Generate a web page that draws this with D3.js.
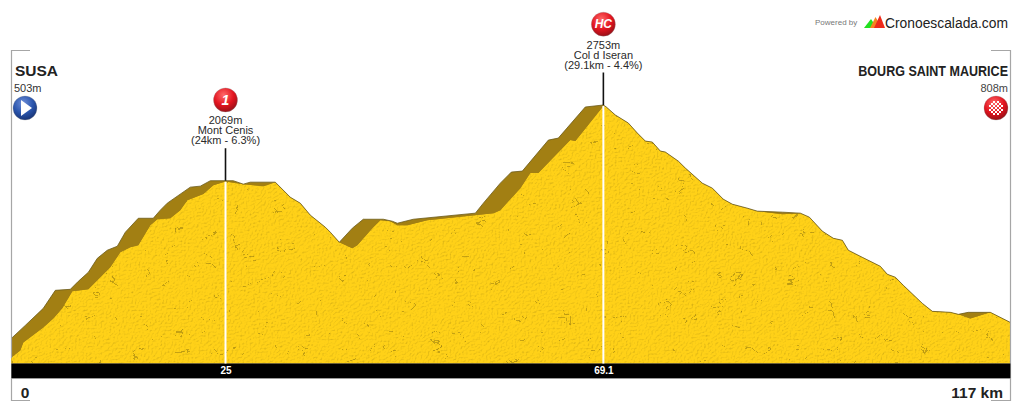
<!DOCTYPE html>
<html><head><meta charset="utf-8">
<script src="https://cdn.jsdelivr.net/npm/d3@7/dist/d3.min.js"></script>
<style>html,body{margin:0;padding:0;background:#fff}svg{display:block}text{font-family:"Liberation Sans",Arial,sans-serif}</style>
</head><body><svg id="c" width="1022" height="412"></svg>
<script>
// Outer silhouette of the profile (km, metres)
const outlineKm=[0,1.63,3.73,5.14,6.89,7.82,8.99,10.04,11.2,12.37,13.31,14.82,16.57,17.39,18.2,20.89,22.06,23.23,25,25.91,27.08,27.89,30.81,32.56,33.73,34.9,36.65,37.23,38.28,39.8,41.08,43.42,44.47,45.05,46.92,54.16,55.09,57.07,58.36,59.64,62.68,63.84,66.99,69.1,69.44,70.49,72.01,73.06,74,74.81,75.75,76.33,77.85,78.67,80.65,81.82,83.1,84.15,85.9,87.07,89.99,92.09,93.14,94.66,95.94,96.99,97.69,99.32,101.42,102.24,103.18,104.11,106.33,107.49,109.59,110.53,111.69,114.26,116.6];
const outlineM=[644,762,916,1079,1088,1160,1242,1368,1441,1477,1604,1730,1730,1803,1866,2011,2020,2069,2069,2069,2038,2056,2056,1920,1866,1758,1649,1604,1513,1640,1721,1721,1703,1685,1721,1776,1866,2047,2147,2156,2436,2454,2735,2753,2735,2663,2590,2500,2427,2418,2337,2328,2246,2183,2047,2002,1902,1857,1821,1794,1785,1776,1740,1613,1549,1531,1441,1377,1296,1224,1197,1124,961,889,880,862,880,880,789];
// Lit surface edge (km, metres)
const surfaceKm=[0,1.05,1.4,3.73,4.9,5.95,7.12,8.99,11.55,12.72,13.89,14.82,16.22,17.04,18.56,19.72,20.54,22.41,23.58,25,27.08,29.41,30.81,32.56,33.73,34.9,36.65,37.23,38.28,39.8,40.38,42.13,43.07,44.23,45.05,46.22,48.55,56.26,57.07,59.41,60.57,61.51,65.24,65.83,69.1,69.44,70.49,72.01,73.06,74,74.81,75.75,76.33,77.85,78.67,80.65,81.82,83.1,84.15,85.9,87.07,89.99,92.09,93.14,94.66,95.94,96.99,97.69,99.32,101.42,102.24,103.18,104.11,106.33,107.49,109.59,110.53,111.93,114.26,116.6];
const surfaceM=[472,536,608,744,825,916,1070,1088,1287,1423,1468,1486,1667,1721,1730,1803,1893,1948,2029,2062,2038,2020,2056,1920,1866,1758,1649,1604,1513,1459,1486,1640,1712,1703,1667,1667,1712,1776,1803,2002,2138,2138,2436,2427,2744,2735,2663,2590,2500,2427,2418,2337,2328,2246,2183,2047,2002,1902,1857,1821,1794,1767,1776,1740,1613,1549,1531,1441,1377,1296,1224,1197,1124,961,889,880,862,825,880,789];
const passKm=[25,69.1];
const passM=[2069,2753];
const passElev=["2069m","2753m"];
const passName=["Mont Cenis","Col d Iseran"];
const passInfo=["(24km - 6.3%)","(29.1km - 4.4%)"];
const passCat=["1","HC"];
const startName="SUSA",startElev="503m",endName="BOURG SAINT MAURICE",endElev="808m";
const totalKm=117,endKm=116.6,baseM=418,topM=2753;

const svg=d3.select("#c");
const x=d3.scaleLinear().domain([0,totalKm]).range([11.3,1013.8]);
const y=d3.scaleLinear().domain([baseM,topM]).range([363.5,105]);
const defs=svg.append("defs");

function grad(id,c0,c1,c2){const g=defs.append("radialGradient").attr("id",id).attr("cx","42%").attr("cy","30%").attr("r","75%");
 g.append("stop").attr("offset","0%").attr("stop-color",c0);g.append("stop").attr("offset","55%").attr("stop-color",c1);g.append("stop").attr("offset","100%").attr("stop-color",c2);}
grad("red","#ff6a6a","#e3141f","#8d0f16");grad("blue","#6f8fd8","#2a55ad","#16306f");

// rock texture: fine grain plus sparse broken cracks
const grey="1 0 0 0 0 1 0 0 0 0 1 0 0 0 0 0 0 0 0 1";
const f=defs.append("filter").attr("id","tex").attr("x","0").attr("y","0").attr("width","1").attr("height","1").attr("color-interpolation-filters","sRGB");
f.append("feTurbulence").attr("type","fractalNoise").attr("baseFrequency","0.55").attr("numOctaves",2).attr("seed",7).attr("result","n");
const l=f.append("feDiffuseLighting").attr("in","n").attr("surfaceScale",0.5).attr("diffuseConstant",1.13).attr("lighting-color","#fff").attr("result","li");
l.append("feDistantLight").attr("azimuth",225).attr("elevation",62);
f.append("feTurbulence").attr("type","fractalNoise").attr("baseFrequency","0.035 0.06").attr("numOctaves",3).attr("seed",11).attr("result","c00");
f.append("feColorMatrix").attr("in","c00").attr("type","matrix").attr("values",grey).attr("result","c0");
const dip=d3.range(61).map(i=>i===30?0.78:1).join(" ");
const ct=f.append("feComponentTransfer").attr("in","c0").attr("result","c1");
["R","G","B"].forEach(ch=>ct.append("feFunc"+ch).attr("type","discrete").attr("tableValues",dip));
f.append("feTurbulence").attr("type","fractalNoise").attr("baseFrequency","0.07").attr("numOctaves",2).attr("seed",3).attr("result","m00");
f.append("feColorMatrix").attr("in","m00").attr("type","matrix").attr("values",grey).attr("result","m0");
const mt=f.append("feComponentTransfer").attr("in","m0").attr("result","m1");
["R","G","B"].forEach(ch=>mt.append("feFunc"+ch).attr("type","discrete").attr("tableValues","0 0 0 0 1 1 1 1 1 1"));
f.append("feComposite").attr("in","c1").attr("in2","m1").attr("operator","arithmetic").attr("k2",1).attr("k3",1).attr("result","cr");
f.append("feGaussianBlur").attr("in","cr").attr("stdDeviation",0.4).attr("result","crb");
f.append("feComposite").attr("in","SourceGraphic").attr("in2","li").attr("operator","arithmetic").attr("k1",1).attr("result","m");
f.append("feComposite").attr("in","m").attr("in2","crb").attr("operator","arithmetic").attr("k1",1).attr("result","m2");
f.append("feComposite").attr("in","m2").attr("in2","SourceAlpha").attr("operator","in");

const area=d3.area().x(d=>x(d[0])).y0(y(baseM)).y1(d=>y(d[1]));
const lineG=d3.line().x(d=>x(d[0])).y(d=>y(d[1]));
const outline=d3.zip(outlineKm,outlineM), surface=d3.zip(surfaceKm,surfaceM);

svg.append("path").attr("d",area(outline)).attr("fill","#a27f13");
svg.append("path").attr("d",area(surface)).attr("fill","#ffd118").attr("filter","url(#tex)");
svg.append("path").attr("d",lineG(outline)).attr("fill","none").attr("stroke","#6b5a1a").attr("stroke-width",0.8);

// frame
const frame="#a6a6a6";
svg.append("path").attr("d",`M30 50.5H11.5V358M11.5 378V400.5H30`).attr("fill","none").attr("stroke",frame).attr("stroke-width",1.2);
svg.append("path").attr("d",`M991 50.5H1010.5V400.5H991`).attr("fill","none").attr("stroke",frame).attr("stroke-width",1.2);

// bottom bar with km axis
const barX0=x(0),barX1=x(endKm);
svg.append("rect").attr("x",barX0).attr("y",363.5).attr("width",barX1-barX0).attr("height",14.5).attr("fill","#000");
svg.append("rect").attr("x",barX0).attr("y",378).attr("width",barX1-barX0).attr("height",1).attr("fill","#9a9a9a");
const ax=svg.append("g").attr("transform","translate(0,366)").call(d3.axisBottom(x).tickValues(passKm).tickSize(0).tickPadding(0).tickFormat(d=>String(d)));
ax.select(".domain").remove();
ax.selectAll("text").attr("fill","#fff").attr("font-weight","bold").attr("font-size",10).attr("dy","0.78em").attr("y",0).attr("font-family",'"Liberation Sans",Arial,sans-serif');

// passes
function icon(cx,cy,fill){return svg.append("circle").attr("cx",cx).attr("cy",cy).attr("r",12).attr("fill",`url(#${fill})`).attr("stroke","#8a8a8a").attr("stroke-opacity",0.5).attr("stroke-width",0.6);}
passKm.forEach((k,i)=>{
 const px=x(k),py=y(passM[i]);
 svg.append("line").attr("x1",px).attr("x2",px).attr("y1",py+1).attr("y2",363.5).attr("stroke","#fff").attr("stroke-width",2);
 svg.append("line").attr("x1",px).attr("x2",px).attr("y1",py-32.5).attr("y2",py).attr("stroke","#111").attr("stroke-width",1.6);
 const t=py-56.3;
 [passElev[i],passName[i],passInfo[i]].forEach((s,j)=>svg.append("text").attr("x",px).attr("y",t+j*10).attr("text-anchor","middle").attr("font-size",11).attr("fill","#2a2a2a").text(s));
 const cy=t-24.5;
 icon(px,cy,"red");
 svg.append("text").attr("x",px).attr("y",cy+(i?4:5)).attr("text-anchor","middle").attr("font-size",i?12:14).attr("font-weight","bold").attr("font-style","italic").attr("fill","#fff").text(passCat[i]);
});

// start
svg.append("text").attr("x",15).attr("y",75.5).attr("font-size",15.5).attr("font-weight","bold").attr("fill","#222").text(startName);
svg.append("text").attr("x",14).attr("y",92).attr("font-size",11).attr("fill","#333").text(startElev);
icon(25,108,"blue");
svg.append("path").attr("d","M21 100L32 108L21 116Z").attr("fill","#fff");
// finish
svg.append("text").attr("transform","translate(1008,75.5) scale(0.865,1)").attr("text-anchor","end").attr("font-size",14.5).attr("font-weight","bold").attr("fill","#222").text(endName);
svg.append("text").attr("x",1008).attr("y",92).attr("text-anchor","end").attr("font-size",11).attr("fill","#444").text(endElev);
icon(996,108,"red");
const chk=svg.append("g").attr("fill","#fff");
for(let r=-3;r<=3;r++)for(let c=-3;c<=3;c++){if((r+c)%2===0&&r*r+c*c<13)chk.append("rect").attr("x",996+c*2-1).attr("y",108+r*2-1).attr("width",2).attr("height",2);}

// km end labels
svg.append("text").attr("x",25).attr("y",398).attr("text-anchor","middle").attr("font-size",15.5).attr("font-weight","bold").attr("fill","#222").text("0");
svg.append("text").attr("x",1003).attr("y",398).attr("text-anchor","end").attr("font-size",15.5).attr("font-weight","bold").attr("fill","#222").text(totalKm+" km");

// logo
svg.append("text").attr("x",815).attr("y",25).attr("font-size",8).attr("fill","#777").text("Powered by");
svg.append("path").attr("d","M864 28L871 19L877 28Z").attr("fill","#22e01f");
svg.append("path").attr("d","M870 28L875.5 17L882 28Z").attr("fill","#f5841f");
svg.append("path").attr("d","M874 28L880 15L885 28Z").attr("fill","#ee2a1a");
svg.append("text").attr("transform","translate(885,27.5) scale(0.955,1)").attr("font-size",14.5).attr("fill","#222").text("Cronoescalada.com");
</script></body></html>
